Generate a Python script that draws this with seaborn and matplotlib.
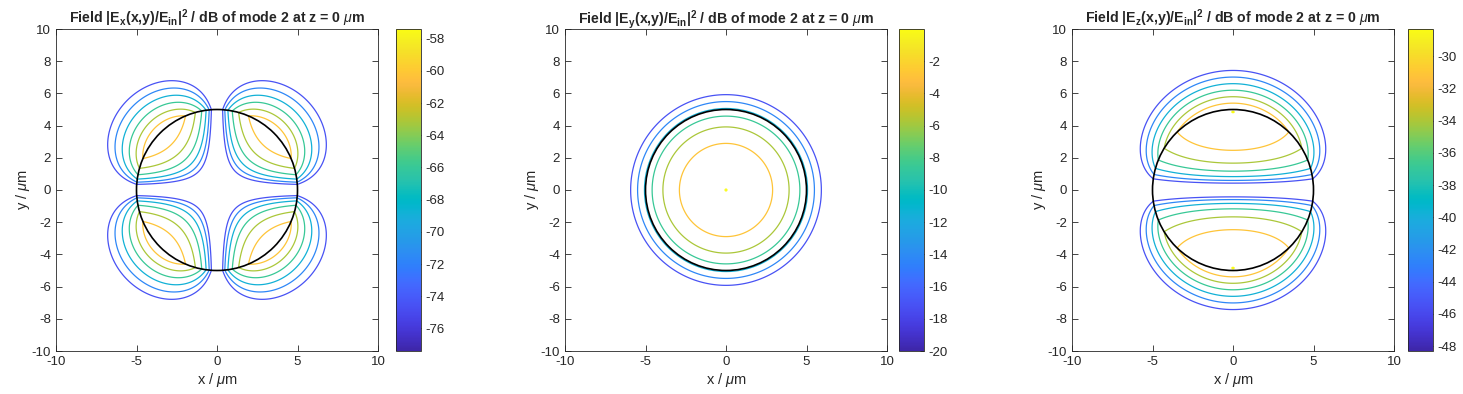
import numpy as np
import matplotlib
matplotlib.use("Agg")
import matplotlib.pyplot as plt
import seaborn as sns
from matplotlib.patches import Circle
from matplotlib.ticker import MultipleLocator
from matplotlib.colors import Normalize
from matplotlib.cm import ScalarMappable

# fibre and mode
core_radius = 5.0                  # um, black circle
u_core = 1.9                       # transverse wave number in the core (normalised)
w_clad = [2.7, 3.4, 3.6]           # decay in the cladding, per component
components = ["x", "y", "z"]
peak_db = [-57.4, 0.0, -28.3]      # top of each colour bar
bessel_order = [2, 0, 1]           # radial order of each field component
azimuth_order = [2, 0, 1]          # sin(m*phi) dependence, 0 = none
dyn_range = 20.0
n_levels = 7

# parula (64 rows)
parula = [
    (0.2422, 0.1504, 0.6603), (0.2504, 0.1650, 0.7076), (0.2578, 0.1818, 0.7511), (0.2647, 0.1978, 0.7952),
    (0.2706, 0.2147, 0.8364), (0.2751, 0.2342, 0.8710), (0.2783, 0.2559, 0.8991), (0.2803, 0.2782, 0.9221),
    (0.2813, 0.3006, 0.9414), (0.2810, 0.3228, 0.9579), (0.2795, 0.3447, 0.9717), (0.2760, 0.3667, 0.9829),
    (0.2699, 0.3892, 0.9906), (0.2602, 0.4123, 0.9952), (0.2440, 0.4358, 0.9988), (0.2206, 0.4603, 0.9973),
    (0.1963, 0.4847, 0.9892), (0.1834, 0.5074, 0.9798), (0.1786, 0.5289, 0.9682), (0.1764, 0.5499, 0.9520),
    (0.1687, 0.5703, 0.9359), (0.1540, 0.5902, 0.9218), (0.1460, 0.6091, 0.9079), (0.1380, 0.6276, 0.8973),
    (0.1248, 0.6459, 0.8883), (0.1113, 0.6635, 0.8763), (0.0952, 0.6798, 0.8598), (0.0689, 0.6948, 0.8394),
    (0.0297, 0.7082, 0.8163), (0.0036, 0.7203, 0.7917), (0.0067, 0.7312, 0.7660), (0.0433, 0.7411, 0.7394),
    (0.0964, 0.7500, 0.7120), (0.1408, 0.7584, 0.6842), (0.1717, 0.7670, 0.6554), (0.1938, 0.7758, 0.6251),
    (0.2161, 0.7843, 0.5923), (0.2470, 0.7918, 0.5567), (0.2906, 0.7973, 0.5188), (0.3406, 0.8008, 0.4789),
    (0.3909, 0.8029, 0.4354), (0.4456, 0.8024, 0.3909), (0.5044, 0.7993, 0.3480), (0.5616, 0.7942, 0.3045),
    (0.6174, 0.7876, 0.2612), (0.6720, 0.7793, 0.2227), (0.7242, 0.7698, 0.1910), (0.7738, 0.7598, 0.1646),
    (0.8203, 0.7498, 0.1535), (0.8634, 0.7406, 0.1596), (0.9035, 0.7330, 0.1774), (0.9393, 0.7288, 0.2100),
    (0.9728, 0.7298, 0.2394), (0.9956, 0.7434, 0.2371), (0.9970, 0.7659, 0.2199), (0.9952, 0.7893, 0.2028),
    (0.9892, 0.8136, 0.1885), (0.9786, 0.8386, 0.1766), (0.9676, 0.8639, 0.1643), (0.9610, 0.8890, 0.1537),
    (0.9597, 0.9135, 0.1423), (0.9628, 0.9373, 0.1265), (0.9691, 0.9606, 0.1064), (0.9769, 0.9839, 0.0805)]

sns.set_style("ticks")
plt.rcParams['font.family'] = ['Liberation Sans', 'DejaVu Sans']
plt.rcParams['axes.unicode_minus'] = False
plt.rcParams['mathtext.fontset'] = 'custom'
plt.rcParams['mathtext.rm'] = 'Liberation Sans'
plt.rcParams['mathtext.it'] = 'Liberation Sans:italic'
plt.rcParams['mathtext.bf'] = 'Liberation Sans:bold'
cmap = sns.blend_palette(parula, n_colors=256, as_cmap=True)


def bessel_j(n, x):
    tau = np.linspace(0, np.pi, 401)
    return np.trapezoid(np.cos(n * tau - x[:, None] * np.sin(tau)), tau, axis=1) / np.pi


def bessel_k(n, x):
    t = np.linspace(0, 8, 2001)
    return np.trapezoid(np.exp(-x[:, None] * np.cosh(t)) * np.cosh(n * t), t, axis=1)


# grid
xs = np.linspace(-10, 10, 400)
X, Y = np.meshgrid(xs, xs)
r = np.hypot(X, Y)
phi = np.arctan2(Y, X)
R_line = np.linspace(0, 3, 3001)

fig = plt.figure(figsize=(14.63, 3.94), dpi=100)
W_px, H_px = 1463.0, 394.0
ax_left = [56, 565, 1072]
cb_left = [396, 899, 1408]
txt = '#262626'

for i, comp in enumerate(components):
    n = bessel_order[i]
    w = w_clad[i]
    Rc = np.maximum(R_line, 1.0)
    f_in = bessel_j(n, u_core * R_line) / bessel_j(n, np.array([u_core]))[0]
    f_out = bessel_k(n, w * Rc) / bessel_k(n, np.array([w]))[0]
    radial = np.where(R_line < 1.0, f_in, f_out)
    amp = np.interp(r / core_radius, R_line, radial)
    if azimuth_order[i] > 0:
        amp = amp * np.sin(azimuth_order[i] * phi)
    amp = np.abs(amp) / np.abs(amp).max()
    db = 20 * np.log10(amp + 1e-30) + peak_db[i]
    vmax = db.max()
    vmin = vmax - dyn_range
    db = np.maximum(db, vmin)
    levels = np.linspace(vmin, vmax, n_levels + 1)[1:]
    levels[-1] = vmax - 0.001

    ax = fig.add_axes([ax_left[i] / W_px, 43 / H_px, 322 / W_px, 322 / H_px])
    ax.contour(X, Y, db, levels=levels, cmap=cmap, vmin=vmin, vmax=vmax, linewidths=0.9)
    ax.add_patch(Circle((0, 0), core_radius, fill=False, color='k', lw=1.2, zorder=5))
    ax.set_xlim(-10, 10)
    ax.set_ylim(-10, 10)
    ax.xaxis.set_major_locator(MultipleLocator(5))
    ax.yaxis.set_major_locator(MultipleLocator(2))
    ax.tick_params(direction='in', top=True, right=True, length=4, width=0.6,
                   labelsize=9.5, colors=txt)
    for s in ax.spines.values():
        s.set_color(txt)
        s.set_linewidth(0.6)
    ax.set_xlabel(r"x / $\mu$m", fontsize=10.5, color=txt, labelpad=2)
    ax.set_ylabel(r"y / $\mu$m", fontsize=10.5, color=txt, labelpad=0)
    ax.set_title(r"Field |E$_\mathbf{%s}$(x,y)/E$_\mathbf{in}$|$^\mathbf{2}$ / dB of mode 2 at z = 0 $\mu$m" % comp,
                 fontsize=10.2, fontweight='bold', pad=4)

    cax = fig.add_axes([cb_left[i] / W_px, 43 / H_px, 25 / W_px, 322 / H_px])
    cb = fig.colorbar(ScalarMappable(norm=Normalize(vmin, vmax), cmap=cmap), cax=cax)
    ticks = np.arange(np.ceil(vmin / 2) * 2, vmax, 2)
    cb.set_ticks(ticks[ticks < vmax - 0.1])
    cb.outline.set_edgecolor(txt)
    cb.outline.set_linewidth(0.6)
    cax.tick_params(direction='in', length=3, width=0.6, labelsize=9.5, colors=txt)

fig.savefig("out.png", dpi=100)
